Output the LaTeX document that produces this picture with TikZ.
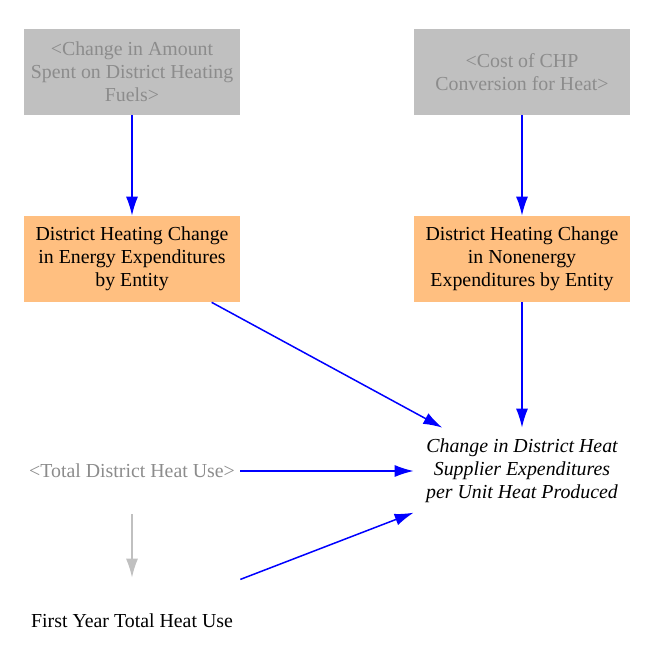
\documentclass[tikz,border=0pt]{standalone}
\usepackage{fontspec}
\setmainfont{Liberation Serif}
\usepackage{tikz}
\usetikzlibrary{arrows.meta}
\tikzset{>={Latex[length=0.38cm,width=0.24cm]}}
\definecolor{shadowbox}{HTML}{C0C0C0}
\definecolor{shadowtext}{HTML}{8C8C8C}
\definecolor{varbox}{HTML}{FFBF80}
\definecolor{linkblue}{HTML}{0000FF}
\tikzset{
    every node/.style={minimum width=4.32cm, minimum height=1.72cm, inner sep=0pt, align=center, font=\fontsize{11.3}{13}\selectfont},
    shadowvar/.style={fill=shadowbox, text=shadowtext},
    auxvar/.style={fill=varbox, text=black},
    link/.style={->, linkblue, line width=0.03cm},
    initlink/.style={->, shadowbox, line width=0.03cm}
}

\begin{document}
\begin{tikzpicture}[x=0.02cm, y=-0.02cm]
            \useasboundingbox (0, 0) rectangle (648, 646);
            \node[shadowvar] (amount) at (132, 72) {<Change in Amount\\Spent on District Heating\\Fuels>};
            \node[shadowvar] (chp) at (522, 72) {<Cost of CHP\\Conversion for Heat>};
            \node[auxvar] (energy) at (132, 259) {District Heating Change\\in Energy Expenditures\\by Entity};
            \node[auxvar] (nonenergy) at (522, 259) {District Heating Change\\in Nonenergy\\Expenditures by Entity};
            \node[font=\fontsize{11.3}{13}\selectfont\itshape] (supplier) at (522, 471) {Change in District Heat\\Supplier Expenditures\\per Unit Heat Produced};
            \node[text=shadowtext] (heatuse) at (132, 471) {<Total District Heat Use>};
            \node (firstyear) at (132, 621) {First Year Total Heat Use};
            \draw[link] (amount) -- (energy);
            \draw[link] (chp) -- (nonenergy);
            \draw[link] (energy) -- (supplier);
            \draw[link] (nonenergy) -- (supplier);
            \draw[link] (heatuse) -- (supplier);
            \draw[link] (firstyear) -- (supplier);
            \draw[initlink] (heatuse) -- (firstyear);
        \end{tikzpicture}
\end{document}
